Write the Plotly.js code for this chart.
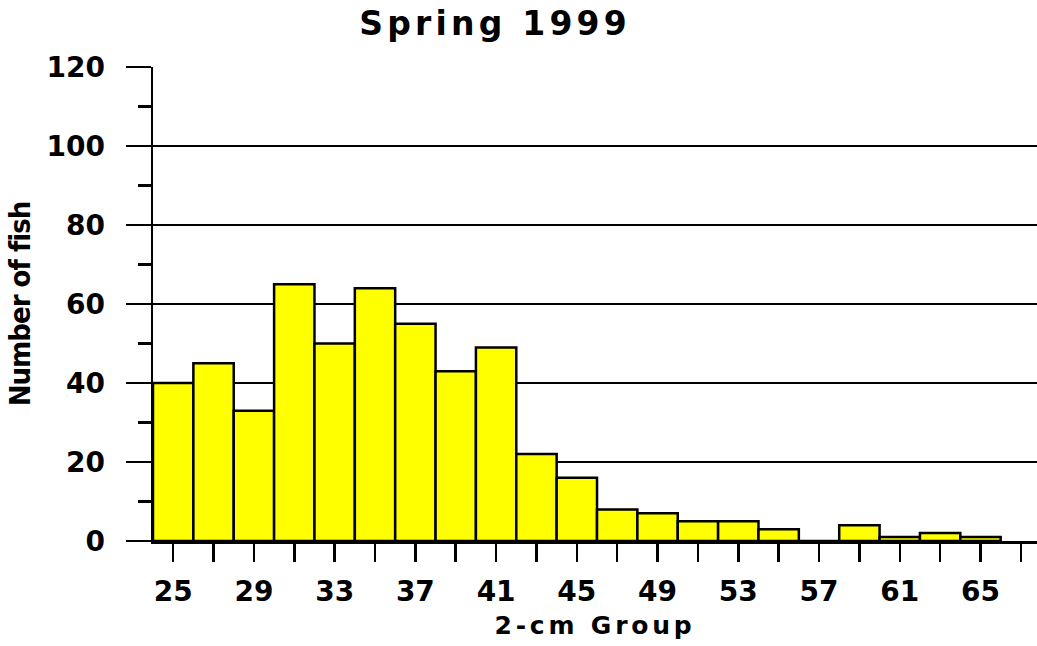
<!DOCTYPE html>
<html>
<head>
<meta charset="utf-8">
<script src="https://cdn.plot.ly/plotly-3.0.1.min.js"></script>
<style>
  html, body { margin: 0; padding: 0; background: #fff; }
  #chart { width: 1037px; height: 646px; }
  .gtitle { letter-spacing: 4.2px; }
  .xtitle { letter-spacing: 3.8px; }
  .ytitle { letter-spacing: -1px; }
</style>
</head>
<body>
<div id="chart"></div>
<script>
// Data
const groups = [25, 27, 29, 31, 33, 35, 37, 39, 41, 43, 45, 47, 49, 51, 53, 55, 57, 59, 61, 63, 65];
const counts = [40, 45, 33, 65, 50, 64, 55, 43, 49, 22, 16, 8, 7, 5, 5, 3, 0, 4, 1, 2, 1];

// Axis ticks
const xTickVals = [25, 29, 33, 37, 41, 45, 49, 53, 57, 61, 65];
const xTickText = ['25', '29', '33', '37', '41', '45', '49', '53', '57', '61', '65'];
const xMinorTicks = [25, 27, 29, 31, 33, 35, 37, 39, 41, 43, 45, 47, 49, 51, 53, 55, 57, 59, 61, 63, 65, 67];
const yTickVals = [0, 20, 40, 60, 80, 100, 120];
const yTickText = ['0', '20', '40', '60', '80', '100', '120'];
const yMinorTicks = [10, 30, 50, 70, 90, 110];

const tickFont = { family: 'DejaVu Sans, Verdana, sans-serif', size: 28, color: '#000', weight: 700 };

const trace = {
  type: 'bar',
  x: groups,
  y: counts,
  width: 2,
  marker: { color: '#ffff00', line: { color: '#000', width: 2.5 } },
  hoverinfo: 'x+y'
};

const layout = {
  width: 1037,
  height: 646,
  margin: { l: 153, r: 0, t: 67, b: 105, pad: 0 },
  paper_bgcolor: '#fff',
  plot_bgcolor: '#fff',
  showlegend: false,
  bargap: 0,
  title: {
    text: 'Spring 1999',
    font: { family: 'DejaVu Sans, Verdana, sans-serif', size: 33, color: '#000', weight: 700 },
    xref: 'container', x: 0.4774, xanchor: 'center',
    yref: 'container', y: 0.963, yanchor: 'middle'
  },
  xaxis: {
    range: [24, 67.8],
    tickmode: 'array',
    tickvals: xTickVals,
    ticktext: xTickText,
    ticks: 'outside', ticklen: 18, tickwidth: 2.5, tickcolor: '#000',
    ticklabelstandoff: 6,
    minor: { tickmode: 'array', tickvals: xMinorTicks, ticks: 'outside', ticklen: 18, tickwidth: 2.5, tickcolor: '#000', showgrid: false },
    tickfont: tickFont,
    showgrid: false,
    zeroline: false,
    showline: true, linecolor: '#000', linewidth: 2.5,
    title: {
      text: '2-cm Group',
      font: { family: 'DejaVu Sans, Verdana, sans-serif', size: 25, color: '#000', weight: 700 },
      standoff: 10
    }
  },
  yaxis: {
    range: [0, 120],
    tickmode: 'array',
    tickvals: yTickVals,
    ticktext: yTickText,
    ticks: 'outside', ticklen: 25, tickwidth: 2.5, tickcolor: '#000',
    ticklabelstandoff: 15,
    minor: { tickmode: 'array', tickvals: yMinorTicks, ticks: 'outside', ticklen: 13, tickwidth: 2.5, tickcolor: '#000', showgrid: false },
    tickfont: tickFont,
    showgrid: true, gridcolor: '#000', gridwidth: 2.5,
    zeroline: false,
    showline: true, linecolor: '#000', linewidth: 2.5,
    title: {
      text: 'Number of fish',
      font: { family: 'DejaVu Sans Condensed, Liberation Sans Narrow, DejaVu Sans, sans-serif', size: 29, color: '#000', weight: 700 },
      standoff: 8
    }
  }
};

Plotly.newPlot('chart', [trace], layout, { displayModeBar: false, staticPlot: true });
</script>
</body>
</html>
